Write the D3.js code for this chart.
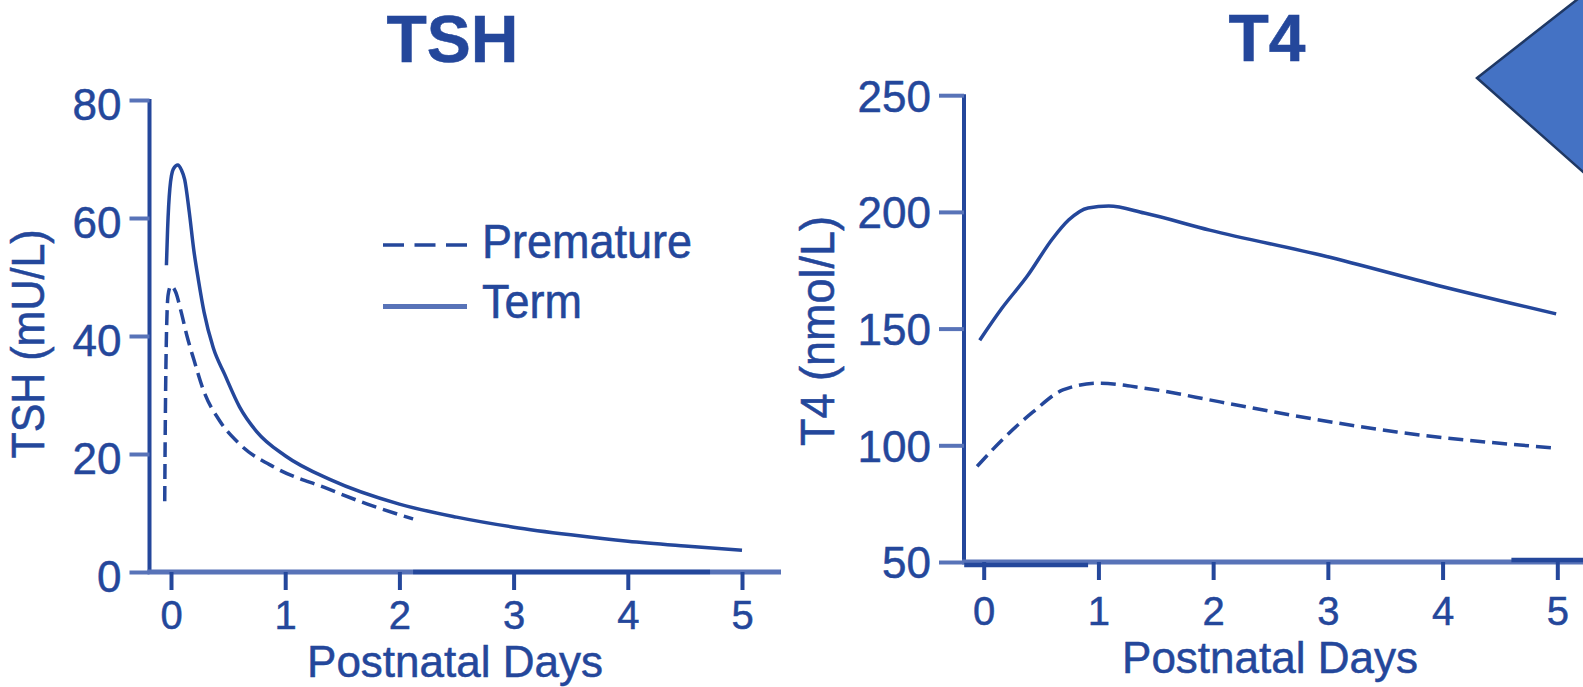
<!DOCTYPE html>
<html>
<head>
<meta charset="utf-8">
<script src="https://cdn.jsdelivr.net/npm/d3@7/dist/d3.min.js"></script>
<style>
  html, body { margin: 0; padding: 0; background: #fff; }
  svg { display: block; }
  text { font-family: "Liberation Sans", Arial, Helvetica, sans-serif; fill: #24479b; stroke: #24479b; stroke-width: 0.5px; }
</style>
</head>
<body>
<svg id="chart" width="1583" height="687"></svg>
<script>
// ---------- DATA ----------
const dayTicks = [0, 1, 2, 3, 4, 5];
const tshTicks = [0, 20, 40, 60, 80];
const t4Ticks = [50, 100, 150, 200, 250];
const seriesNames = ["Premature", "Term"];

const tshTermDays   = [-0.04, -0.03, -0.01, 0.02, 0.06, 0.09, 0.12, 0.16, 0.2, 0.24, 0.29, 0.37, 0.47, 0.6, 0.75, 1.0, 1.4, 2.0, 2.5, 3.0, 3.5, 4.0, 4.5, 5.0];
const tshTermValues = [52, 58, 65, 68.3, 69, 68.2, 66.5, 61, 54.5, 49.5, 44, 38, 33.5, 28, 23.8, 19.7, 15.6, 11.5, 9.3, 7.6, 6.3, 5.2, 4.4, 3.7];

const tshPrematureDays   = [-0.055, -0.05, -0.04, -0.025, 0.0, 0.04, 0.09, 0.14, 0.2, 0.29, 0.42, 0.6, 0.92, 1.36, 1.72, 2.12];
const tshPrematureValues = [12, 25, 40, 47, 48.5, 47.5, 44, 40, 36, 30.5, 25.8, 21.7, 17.6, 14.2, 11.5, 9];

const t4TermDays   = [-0.035, 0.16, 0.38, 0.6, 0.74, 0.91, 1.09, 1.4, 1.97, 2.98, 3.95, 4.99];
const t4TermValues = [145, 158.8, 172.5, 188.5, 196.5, 201.7, 202.5, 199.5, 192.2, 181, 168.6, 156.3];

const t4PrematureDays   = [-0.057, 0.16, 0.43, 0.69, 1.0, 1.4, 2.06, 2.72, 3.6, 4.99];
const t4PrematureValues = [91, 102.3, 114.3, 123.7, 126.6, 124.5, 118.6, 112.6, 105.7, 98.8];

// ---------- DRAW ----------
const svg = d3.select("#chart");
const ink = "#24479b";
const axisInk = "#5873b8";
const dash = "15,7";
const stretch = 1.07;

const panels = [
  {
    title: "TSH", titleSize: 66, titleX: 452.5, titleBase: 62,
    yLabel: "TSH (mU/L)", yLabelSize: 43, yTicks: tshTicks, yDomain: [0, 80],
    xRange: [171, 742], yRange: [572, 100],
    axisX: 149.5, axisRight: 781, yLabelX: 44, yLabelY: 344,
    yTickLen: 20, yTickDy: "0.45em", xTickLen: 18, xLabelBase: 628.5, xTitleBase: 677, xTitleX: 455,
    series: [
      { days: tshPrematureDays, values: tshPrematureValues, dashed: true },
      { days: tshTermDays, values: tshTermValues, dashed: false }
    ],
    legend: true,
    artifacts: [[2.12, 4.72, 0]]
  },
  {
    title: "T4", titleSize: 66, titleX: 1267, titleBase: 61,
    yLabel: "T4 (nmol/L)", yLabelSize: 45, yTicks: t4Ticks, yDomain: [50, 250],
    xRange: [983.7, 1557.3], yRange: [562, 95.2],
    axisX: 964, axisRight: 1590, yLabelX: 834, yLabelY: 331,
    yTickLen: 25, yTickDy: "0.36em", xTickLen: 18, xLabelBase: 625, xTitleBase: 673, xTitleX: 1270,
    series: [
      { days: t4PrematureDays, values: t4PrematureValues, dashed: true },
      { days: t4TermDays, values: t4TermValues, dashed: false }
    ],
    legend: false,
    artifacts: [[-0.17, 0.91, 3], [4.6, 5.3, -2]]
  }
];

panels.forEach(p => {
  const x = d3.scaleLinear().domain([0, 5]).range(p.xRange);
  const y = d3.scaleLinear().domain(p.yDomain).range(p.yRange);
  const g = svg.append("g");
  const y0 = y(p.yDomain[0]);

  // axis lines
  g.append("line").attr("x1", p.axisX).attr("x2", p.axisX)
    .attr("y1", y(p.yDomain[1]) - 1).attr("y2", y0 + 2)
    .attr("stroke", ink).attr("stroke-width", 4);
  g.append("line").attr("x1", p.axisX - 2).attr("x2", p.axisRight)
    .attr("y1", y0).attr("y2", y0)
    .attr("stroke", axisInk).attr("stroke-width", 5);
  p.artifacts.forEach(a => {
    g.append("line").attr("x1", x(a[0])).attr("x2", x(a[1]))
      .attr("y1", y0 + a[2]).attr("y2", y0 + a[2])
      .attr("stroke", ink).attr("stroke-width", 4.5);
  });

  // y axis
  const ya = g.append("g").attr("transform", `translate(${p.axisX},0)`)
    .call(d3.axisLeft(y).tickValues(p.yTicks).tickSize(p.yTickLen).tickPadding(8).tickFormat(d3.format("d")));
  ya.select(".domain").remove();
  ya.selectAll(".tick line").attr("stroke", axisInk).attr("stroke-width", 4);
  ya.selectAll(".tick text").attr("font-size", 44).attr("dy", p.yTickDy)
    .attr("fill", ink).style("font-family", "'Liberation Sans', Arial, sans-serif");

  // x axis
  const xa = g.append("g").attr("transform", `translate(0,${y0})`)
    .call(d3.axisBottom(x).tickValues(dayTicks).tickSize(p.xTickLen).tickPadding(0).tickFormat(d3.format("d")));
  xa.select(".domain").remove();
  xa.selectAll(".tick line").attr("stroke", ink).attr("stroke-width", 4);
  xa.selectAll(".tick text").attr("font-size", 40).attr("dy", null)
    .attr("y", p.xLabelBase - y0).attr("fill", ink)
    .style("font-family", "'Liberation Sans', Arial, sans-serif");

  // curves
  const line = d3.line().curve(d3.curveMonotoneX).x(d => x(d[0])).y(d => y(d[1]));
  p.series.forEach(s => {
    const pts = s.days.map((d, i) => [d, s.values[i]]);
    g.append("path").datum(pts).attr("d", line)
      .attr("fill", "none").attr("stroke", ink).attr("stroke-width", 3.5)
      .attr("stroke-dasharray", s.dashed ? dash : null)
      .attr("stroke-linejoin", "round");
  });

  // titles
  g.append("text").attr("x", p.titleX).attr("y", p.titleBase)
    .attr("text-anchor", "middle")
    .attr("font-size", p.titleSize).attr("font-weight", "bold").text(p.title);
  g.append("text").attr("transform", `translate(${p.yLabelX},${p.yLabelY}) rotate(-90) scale(1,${stretch})`)
    .attr("text-anchor", "middle").attr("font-size", p.yLabelSize).text(p.yLabel);
  g.append("text").attr("x", p.xTitleX).attr("y", p.xTitleBase).attr("text-anchor", "middle")
    .attr("font-size", 44).text("Postnatal Days");

  // legend
  if (p.legend) {
    const lg = g.append("g");
    const rows = [{ name: seriesNames[0], dashed: true, y: 245, base: 258 },
                  { name: seriesNames[1], dashed: false, y: 306.5, base: 318 }];
    rows.forEach(r => {
      lg.append("line").attr("x1", 383).attr("x2", 467).attr("y1", r.y).attr("y2", r.y)
        .attr("stroke", r.dashed ? ink : axisInk).attr("stroke-width", r.dashed ? 3.5 : 5)
        .attr("stroke-dasharray", r.dashed ? "21,10.5" : null);
      lg.append("text").attr("transform", `translate(482,${r.base}) scale(1,${stretch})`)
        .attr("font-size", 45).text(r.name);
    });
  }
});

// decorative arrow shape in the top-right corner
svg.append("polygon")
  .attr("points", "1477,78 1590,-10.5 1590,178")
  .attr("fill", "#4472c4").attr("stroke", "#1f3864").attr("stroke-width", 2.5)
  .attr("stroke-linejoin", "miter");
</script>
</body>
</html>
